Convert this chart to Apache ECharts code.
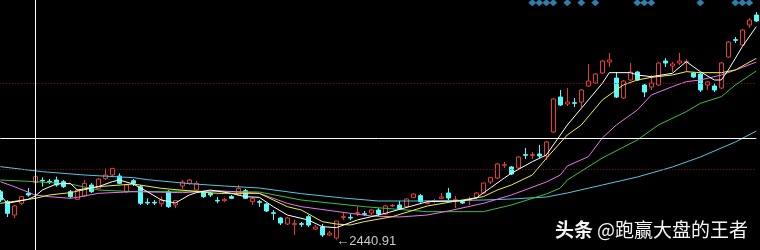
<!DOCTYPE html>
<html><head><meta charset="utf-8">
<script src="https://cdn.jsdelivr.net/npm/echarts@6/dist/echarts.min.js"></script>
<style>html,body{margin:0;padding:0;background:#000;overflow:hidden}#c{width:760px;height:250px}</style>
</head><body><div id="c"></div>
<script>
// [open, close, low, high]
const ohlc = [
[2585,2560,2554,2590],[2555,2520,2509,2560],[2515,2542,2506,2545],[2550,2570,2545,2572],[2580,2575,2570,2596],
[2612,2630,2605,2632],[2619,2617,2600,2628],[2616,2614,2608,2623],[2620,2605,2600,2630],[2615,2600,2596,2620],
[2585,2570,2566,2590],[2562,2590,2560,2593],[2572,2610,2569,2620],[2605,2585,2581,2611],[2595,2623,2593,2626],
[2625,2635,2620,2655],[2635,2655,2632,2656],[2632,2610,2608,2640],[2585,2605,2581,2608],[2618,2610,2602,2623],
[2600,2550,2545,2605],[2553,2551,2545,2565],[2553,2551,2545,2560],[2550,2560,2540,2570],[2585,2540,2536,2590],
[2545,2558,2536,2560],[2602,2614,2593,2620],[2610,2620,2605,2623],[2590,2610,2587,2617],[2585,2570,2566,2588],
[2580,2575,2569,2583],[2559,2557,2550,2569],[2558,2562,2554,2566],[2570,2565,2563,2575],[2575,2595,2572,2605],
[2588,2565,2563,2593],[2555,2565,2545,2569],[2555,2553,2539,2560],[2548,2527,2524,2551],[2522,2520,2500,2530],
[2506,2491,2485,2509],[2488,2506,2485,2509],[2487,2489,2455,2500],[2489,2487,2479,2494],[2510,2485,2479,2515],
[2473,2479,2470,2485],[2479,2455,2449,2488],[2455,2461,2452,2467],[2446,2497,2440.91,2497],[2508,2510,2500,2521],
[2508,2506,2500,2518],[2520,2522,2512,2540],[2519,2517,2512,2527],[2521,2530,2515,2533],[2530,2518,2512,2536],
[2518,2542,2515,2545],[2542,2544,2539,2548],[2545,2533,2530,2557],[2540,2563,2539,2566],[2567,2578,2566,2580],
[2573,2555,2552,2578],[2550,2552,2548,2557],[2556,2558,2551,2563],[2565,2569,2563,2581],[2581,2566,2560,2596],
[2559,2561,2536,2572],[2555,2551,2548,2560],[2559,2561,2545,2570],[2567,2581,2563,2584],[2581,2611,2578,2611],
[2614,2627,2608,2629],[2626,2668,2623,2671],[2664,2666,2656,2674],[2659,2638,2635,2662],[2656,2689,2653,2692],
[2696,2694,2683,2716],[2694,2696,2683,2704],[2698,2692,2686,2725],[2692,2734,2680,2737],[2764,2863,2761,2866],
[2869,2845,2842,2890],[2848,2854,2842,2896],[2852,2850,2839,2866],[2854,2890,2839,2893],[2902,2917,2899,2968],
[2911,2938,2908,2941],[2941,2977,2938,2980],[2974,2980,2959,3001],[2926,2869,2866,2944],[2866,2917,2863,2920],
[2920,2944,2917,2971],[2944,2920,2917,2947],[2905,2884,2869,2908],[2899,2911,2890,2935],[2905,2971,2902,2974],
[2977,2971,2959,2986],[2962,2968,2944,2974],[2971,2977,2965,3001],[2973,2975,2944,2983],[2941,2929,2926,2944],
[2938,2890,2884,2941],[2905,2914,2890,2917],[2902,2890,2884,2911],[2896,2971,2893,2974],[2989,3034,2986,3037],
[3041,3039,3031,3049],[3025,3070,3022,3073],[3085,3100,3076,3106],[3115,3097,3094,3124]
];
const categories = ohlc.map((_, i) => 'D' + (i + 1));

// moving averages, [candle index, value]
const ma5 = [[0,2575],[1,2550],[4,2562],[5,2572],[6,2590],[8,2608],[10,2610],[11,2590],[14,2600],[16,2615],[17,2620],[19,2608],[21,2585],[23,2560],[25,2551],[27,2575],[28,2582],[30,2590],[33,2580],[35,2570],[37,2568],[39,2540],[41,2515],[44,2500],[46,2480],[48,2477],[51,2500],[55,2520],[61,2555],[66,2557],[68,2566],[70,2596],[72,2626],[73,2640],[76,2675],[78,2695],[80,2755],[81,2785],[84,2860],[86,2910],[87,2942],[90,2942],[91,2935],[93,2930],[96,2940],[98,2975],[100,2945],[102,2920],[103,2920],[104,2950],[106,3020],[108,3080]];
const ma10 = [[0,2550],[5,2565],[7,2575],[10,2582],[14,2600],[19,2608],[23,2595],[31,2580],[37,2580],[41,2540],[43,2530],[46,2495],[48,2488],[50,2485],[52,2495],[56,2510],[61,2542],[66,2560],[69,2570],[71,2590],[73,2605],[76,2635],[78,2685],[81,2755],[83,2785],[86,2860],[89,2905],[91,2920],[93,2928],[96,2935],[98,2945],[100,2942],[103,2942],[105,2950],[108,2985]];
const ma20 = [[0,2615],[2,2600],[5,2575],[7,2570],[10,2565],[11,2568],[14,2580],[19,2585],[26,2582],[31,2588],[37,2580],[41,2550],[43,2540],[50,2520],[53,2512],[57,2509],[61,2515],[64,2527],[69,2550],[73,2575],[78,2614],[80,2635],[81,2662],[84,2690],[86,2746],[88,2785],[91,2830],[93,2875],[96,2900],[98,2915],[100,2920],[103,2935],[105,2950],[108,2974]];
const ma30 = [[0,2620],[5,2615],[10,2608],[14,2590],[19,2585],[27,2587],[37,2584],[43,2560],[52,2540],[61,2525],[69,2525],[73,2545],[78,2578],[80,2596],[81,2620],[86,2686],[91,2740],[94,2785],[98,2825],[100,2850],[103,2870],[105,2905],[108,2947]];
const ma60 = [[0,2660],[6,2645],[12,2635],[19,2627],[21,2621],[27,2609],[32,2602],[37,2596],[43,2579],[49,2566],[54,2557],[59,2557],[64,2558],[69,2560],[73,2563],[78,2569],[81,2581],[86,2605],[91,2629],[96,2659],[100,2689],[105,2734],[108,2767]];

const signalIdx = [76,77,78,79,81,83,85,91,92,93,100,105,106,107];
const signalLevel = 3152;
const lowIdx = 48, lowValue = 2440.91;
const crossIdx = 5, crossValue = 2745;
const dottedLevels = [2910, 2652];

const chart = echarts.init(document.getElementById('c'), null, {renderer: 'canvas'});
function ma(data, color) {
  return {type: 'line', data: data, symbol: 'none', smooth: false, silent: true, clip: false,
    lineStyle: {color: color, width: 1}, z: 3};
}
chart.setOption({
  backgroundColor: '#000',
  animation: false,
  grid: {left: 0.3, right: 3.7, top: 0, bottom: 0},
  xAxis: {type: 'category', data: categories, boundaryGap: false, show: false},
  yAxis: {type: 'value', min: 2410, max: 3160, show: false},
  series: [
    {type: 'line', data: [], silent: true,
     markLine: {silent: true, symbol: ['none', 'none'], label: {show: false},
       data: dottedLevels.map(v => ({yAxis: v, lineStyle: {color: '#8a1c1c', type: [1, 2], width: 1}}))}},
    {type: 'candlestick', data: ohlc, barWidth: 5, z: 2, clip: false,
     itemStyle: {color: '#000', color0: '#54fcfc', borderColor: '#e8393c', borderColor0: '#54fcfc', borderWidth: 1},
     markPoint: {symbol: 'circle', symbolSize: 0, silent: true,
       data: [{coord: [lowIdx, lowValue], value: lowValue}],
       label: {show: true, position: 'right', distance: 0, offset: [0, 2],
         formatter: '\u2190' + lowValue.toFixed(2), color: '#c8c8c8', fontSize: 13, fontFamily: 'Liberation Sans'}}},
    ma(ma60, '#55c6e0'),
    ma(ma30, '#3cc03c'),
    ma(ma20, '#e878e8'),
    ma(ma10, '#f0f040'),
    ma(ma5, '#ffffff'),
    {type: 'scatter', data: signalIdx.map(i => [i, signalLevel]), symbol: 'diamond', symbolSize: [8, 7],
     itemStyle: {color: '#3a9fd5'}, silent: true, z: 5, clip: false,
     markLine: {silent: true, symbol: ['none', 'none'], label: {show: false},
       lineStyle: {color: '#ffffff', type: 'solid', width: 1},
       data: [{yAxis: crossValue}, {xAxis: crossIdx}]}}
  ],
  graphic: [
    {type: 'text', left: 555, top: 220, style: {text: '头条', font: 'bold 19px "Noto Sans CJK SC"', fill: '#f4f4f4'}},
    {type: 'text', left: 597, top: 220, style: {text: '@跑赢大盘的王者', font: '19px "Noto Sans CJK SC"', fill: '#f4f4f4'}}
  ]
});
</script>
</body></html>
